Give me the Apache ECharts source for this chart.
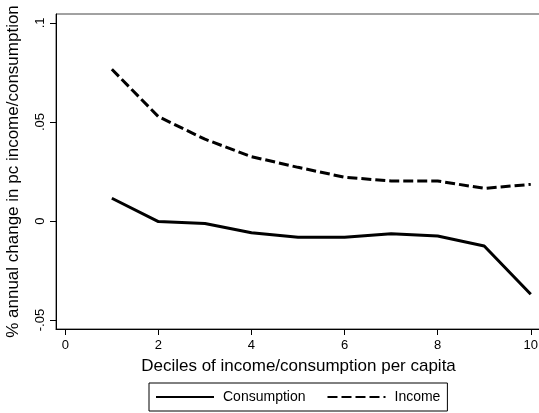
<!DOCTYPE html>
<html>
<head>
<meta charset="utf-8">
<script src="https://cdn.jsdelivr.net/npm/echarts@6/dist/echarts.min.js"></script>
<style>
html,body{margin:0;padding:0;background:#fff;}
#chart{width:539px;height:413px;}
</style>
</head>
<body>
<div id="chart"></div>
<script>
var deciles = [1, 2, 3, 4, 5, 6, 7, 8, 9, 10];
var consumption = [0.0115, -0.0003, -0.0012, -0.0059, -0.0082, -0.0082, -0.0064, -0.0076, -0.0126, -0.0370];
var income = [0.0766, 0.0527, 0.0413, 0.0325, 0.0271, 0.0221, 0.0202, 0.0202, 0.0165, 0.0185];
var xTickValues = [0, 2, 4, 6, 8, 10];
var yTickValues = [-0.05, 0, 0.05, 0.1];
var yTickLabels = ['-.05', '0', '.05', '.1'];

var font = 'Liberation Sans, Arial, sans-serif';
var chart = echarts.init(document.getElementById('chart'), null, {renderer: 'canvas'});

function pairs(xs, ys) { return xs.map(function (x, i) { return [x, ys[i]]; }); }

chart.setOption({
  animation: false,
  backgroundColor: '#fff',
  textStyle: {fontFamily: font},
  grid: {
    left: 56, right: -2, top: 14, bottom: 84,
    containLabel: false, outerBoundsMode: 'none',
    show: true, borderColor: '#444', borderWidth: 1, backgroundColor: 'transparent'
  },
  xAxis: {
    type: 'value', min: -0.2, max: 10.22,
    name: 'Deciles of income/consumption per capita',
    nameLocation: 'middle', nameGap: 29,
    nameTextStyle: {fontFamily: font, fontSize: 17, color: '#000'},
    axisLine: {show: true, onZero: false, lineStyle: {color: '#000', width: 1}},
    axisTick: {show: true, length: 6, inside: false, customValues: xTickValues, lineStyle: {color: '#000'}},
    axisLabel: {customValues: xTickValues, color: '#000', fontSize: 13, fontFamily: font, margin: 10},
    splitLine: {show: false}
  },
  yAxis: {
    type: 'value', min: -0.0545, max: 0.1045,
    name: '% annual change in pc income/consumption',
    nameLocation: 'middle', nameGap: 34, nameRotate: 90,
    nameTextStyle: {fontFamily: font, fontSize: 17, color: '#000'},
    axisLine: {show: true, onZero: false, lineStyle: {color: '#000', width: 1}},
    axisTick: {show: true, length: 6, inside: false, customValues: yTickValues, lineStyle: {color: '#000'}},
    axisLabel: {
      customValues: yTickValues, rotate: 90, color: '#000', fontSize: 13, fontFamily: font, margin: 9,
      formatter: function (v) {
        for (var i = 0; i < yTickValues.length; i++) {
          if (Math.abs(yTickValues[i] - v) < 1e-9) return yTickLabels[i];
        }
        return '';
      }
    },
    splitLine: {show: false}
  },
  legend: {
    show: true, left: 149, top: 383, orient: 'horizontal',
    padding: [7, 7, 7, 6],
    itemGap: 21, itemWidth: 58, itemHeight: 14,
    borderColor: '#000', borderWidth: 1,
    backgroundColor: '#fff',
    itemStyle: {opacity: 0},
    textStyle: {fontFamily: font, fontSize: 14, color: '#000', padding: [0, 0, 0, 4]},
    data: ['Consumption', 'Income']
  },
  series: [
    {
      name: 'Consumption', type: 'line', data: pairs(deciles, consumption),
      symbol: 'none', lineStyle: {color: '#000', width: 3, type: 'solid'},
      itemStyle: {color: '#000'}
    },
    {
      name: 'Income', type: 'line', data: pairs(deciles, income),
      symbol: 'none', lineStyle: {color: '#000', width: 3, type: [10, 4]},
      itemStyle: {color: '#000'}
    }
  ]
});
</script>
</body>
</html>
